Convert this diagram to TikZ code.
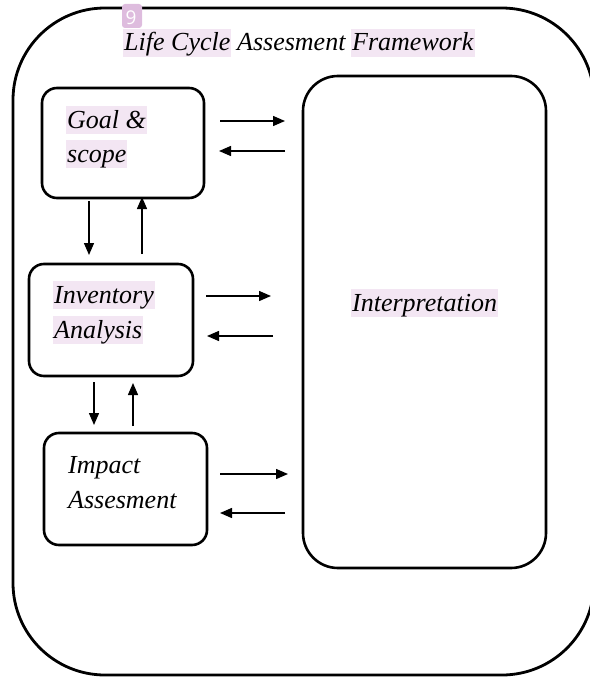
\documentclass[tikz,border=0pt]{standalone}
\usepackage{fontspec}
\setmainfont{Liberation Serif}
\newfontfamily\badgefont{Open Sans}
\usetikzlibrary{arrows.meta}
\definecolor{hl}{RGB}{243,230,243}
\definecolor{badge}{RGB}{222,188,222}
\begin{document}
\begin{tikzpicture}[x=1pt,y=-1pt,
  box/.style={draw,line width=2.6pt,rounded corners=15pt,inner sep=0,rectangle},
  lbl/.style={anchor=base west,inner sep=0,font=\fontsize{26}{30}\selectfont\itshape},
  hlt/.style={lbl,fill=hl,text height=22pt,text depth=6pt,inner xsep=1pt},
  arr/.style={line width=1.4pt,-{Triangle[length=12pt,width=10pt]}}]
\useasboundingbox (0,0) rectangle (589,677);
% outer frame
\draw[line width=2.8pt,rounded corners=92pt] (13,8) rectangle (594,675);
% boxes
\node[box,minimum width=162pt,minimum height=110pt] (goal) at (123,143) {};
\node[box,minimum width=164pt,minimum height=112pt] (inv) at (111,320) {};
\node[box,minimum width=163pt,minimum height=112pt] (imp) at (125.5,489) {};
\node[box,rounded corners=35pt,minimum width=243pt,minimum height=492pt] (interp) at (424.5,322) {};
% title
\node[hlt] (t1) at (123,51) {Life Cycle};
\node[lbl] (t2) at (237,51) {Assesment};
\node[hlt] (t3) at (351,51) {Framework};
% badge
\node[fill=badge,rounded corners=3pt,minimum width=20pt,minimum height=24pt,inner sep=0] (badge) at (132,16) {};
\node[text=white,inner sep=0,anchor=base,font=\badgefont\fontsize{19}{19}\selectfont] (nine) at (131,25) {9};
% box labels
\node[hlt] (g1) at (66,128) {Goal \&};
\node[hlt] (g2) at (66,162) {scope};
\node[hlt] (i1) at (53,303) {Inventory};
\node[hlt] (i2) at (53,338) {Analysis};
\node[lbl] (m1) at (68,473) {Impact};
\node[lbl] (m2) at (68,508) {Assesment};
\node[hlt] (p1) at (351,311) {Interpretation};
% arrow end points
\coordinate (ga1) at (220,121); \coordinate (gb1) at (285,121);
\coordinate (ga2) at (285,151); \coordinate (gb2) at (219,151);
\coordinate (ia1) at (206,296); \coordinate (ib1) at (271,296);
\coordinate (ia2) at (273,336); \coordinate (ib2) at (207,336);
\coordinate (ma1) at (220,474); \coordinate (mb1) at (288,474);
\coordinate (ma2) at (285,513); \coordinate (mb2) at (220,513);
\coordinate (va1) at (89,201); \coordinate (vb1) at (89,255);
\coordinate (va2) at (142,254); \coordinate (vb2) at (142,197);
\coordinate (wa1) at (94,382); \coordinate (wb1) at (94,425);
\coordinate (wa2) at (133,426); \coordinate (wb2) at (133,383);
\foreach \s in {g,i,m,v,w}{
  \draw[arr] (\s a1) -- (\s b1);
  \draw[arr] (\s a2) -- (\s b2);
}
\end{tikzpicture}
\end{document}
